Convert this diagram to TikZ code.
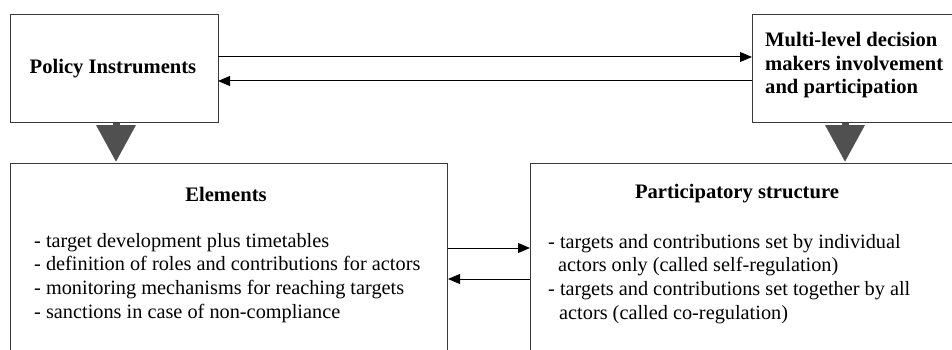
\documentclass[tikz,border=0pt]{standalone}
\usepackage{fontspec}
\setmainfont{Liberation Serif}
\usetikzlibrary{arrows.meta}
\definecolor{boxgray}{HTML}{3A3A3A}
\definecolor{trigray}{HTML}{505050}
\tikzset{
  box/.style={draw=boxgray, line width=1.4pt, inner sep=0pt},
  thin/.style={draw=black, line width=1pt, -{Triangle[length=12pt,width=10pt]}},
  big/.style={draw=trigray, line width=7pt, -{Triangle[length=37pt,width=38pt]}, shorten >=0pt},
  txt/.style={font=\fontsize{20.3}{23.6}\selectfont, align=left, inner sep=0pt},
  btxt/.style={font=\fontsize{20.6}{23.6}\selectfont\bfseries, align=left, inner sep=0pt},
}
\begin{document}
\begin{tikzpicture}[x=1pt,y=-1pt]
\useasboundingbox (0,0) rectangle (952,350);
\clip (0,0) rectangle (952,350);
\fill[white] (0,0) rectangle (952,350);
% boxes
\node[box, minimum width=208pt, minimum height=108pt, anchor=north west] (pi) at (10,14) {};
\node[box, minimum width=230pt, minimum height=108pt, anchor=north west] (ml) at (752,14) {};
\node[box, minimum width=437pt, minimum height=260pt, anchor=north west] (el) at (10,163) {};
\node[box, minimum width=480pt, minimum height=260pt, anchor=north west] (ps) at (530,163) {};
% texts
\node[btxt] (pit) at (113,69) {Policy Instruments};
\node[btxt, anchor=north west] (mlt) at (765,32) {Multi-level decision\\makers involvement\\and participation};
\node[btxt] (elt) at (226,194) {Elements};
\node[btxt] (pst) at (737,194) {Participatory structure};
\node[txt, anchor=north west] (ell) at (34,233) {- target development plus timetables\\- definition of roles and contributions for actors\\- monitoring mechanisms for reaching targets\\- sanctions in case of non-compliance};
\node[txt, anchor=north west] (psl) at (548,234) {- targets and contributions set by individual\\\hspace*{10pt}actors only (called self-regulation)\\- targets and contributions set together by all\\\hspace*{11pt}actors (called co-regulation)};
% connectors
\coordinate (a1) at (218,57); \coordinate (b1) at (752,57);
\coordinate (a2) at (752,81); \coordinate (b2) at (218,81);
\draw[thin] (a1) -- (b1);
\draw[thin] (a2) -- (b2);
\coordinate (c1) at (448,248); \coordinate (d1) at (530,248);
\coordinate (c2) at (530,279); \coordinate (d2) at (448,279);
\draw[thin] (c1) -- (d1);
\draw[thin] (c2) -- (d2);
\draw[big] (116,122.7) -- (116,162);
\draw[big] (845,122.7) -- (845,162);
\end{tikzpicture}
\end{document}
